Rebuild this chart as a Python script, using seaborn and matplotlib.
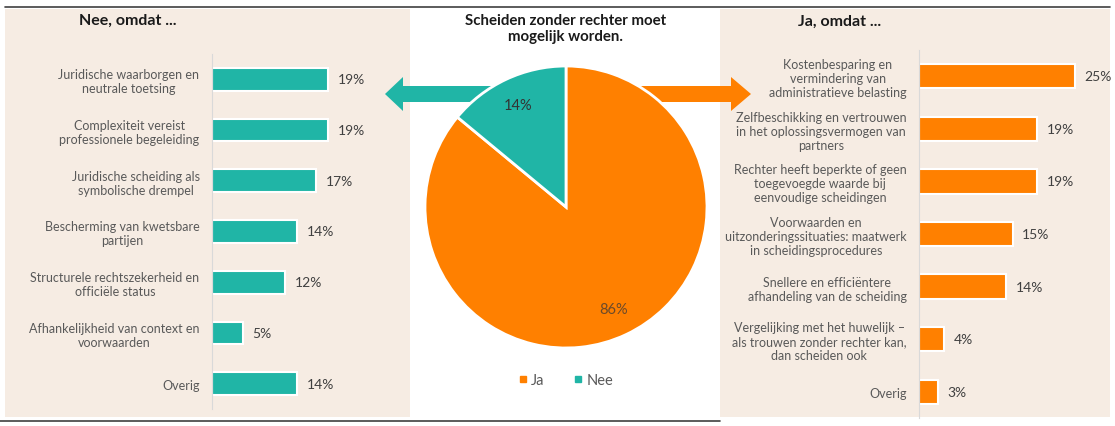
import matplotlib
matplotlib.use("Agg")
import matplotlib.pyplot as plt
import seaborn as sns
import pandas as pd
from matplotlib.patches import Rectangle, Polygon
from matplotlib.lines import Line2D

# Data
nee_labels = [
    "Juridische waarborgen en\nneutrale toetsing",
    "Complexiteit vereist\nprofessionele begeleiding",
    "Juridische scheiding als\nsymbolische drempel",
    "Bescherming van kwetsbare\npartijen",
    "Structurele rechtszekerheid en\nofficiële status",
    "Afhankelijkheid van context en\nvoorwaarden",
    "Overig",
]
nee_values = [19, 19, 17, 14, 12, 5, 14]

ja_labels = [
    "Kostenbesparing en\nvermindering van\nadministratieve belasting",
    "Zelfbeschikking en vertrouwen\nin het oplossingsvermogen van\npartners",
    "Rechter heeft beperkte of geen\ntoegevoegde waarde bij\neenvoudige scheidingen",
    "Voorwaarden en\nuitzonderingssituaties: maatwerk\nin scheidingsprocedures",
    "Snellere en efficiëntere\nafhandeling van de scheiding",
    "Vergelijking met het huwelijk –\nals trouwen zonder rechter kan,\ndan scheiden ook",
    "Overig",
]
ja_values = [25, 19, 19, 15, 14, 4, 3]

pie_labels = ["Ja", "Nee"]
pie_values = [86, 14]

TEAL = "#20b5a6"
ORANGE = "#ff8000"
BEIGE = "#f6ece3"
LABEL_GREY = "#595959"
VALUE_GREY = "#404040"

sns.set_style("white")
plt.rcParams["font.family"] = ["Lato", "DejaVu Sans"]

W, H = 1115, 427
fig = plt.figure(figsize=(W / 100, H / 100), dpi=100)
fig.patch.set_facecolor("white")


def box(x, y, w, h):
    # pixel box (top-left origin) -> figure fraction rect
    return [x / W, 1 - (y + h) / H, w / W, h / H]


def fpt(x, y):
    return (x / W, 1 - y / H)


# panel backgrounds
fig.add_artist(Rectangle(fpt(5, 418), 405 / W, 408 / H, transform=fig.transFigure,
                         facecolor=BEIGE, edgecolor="none", zorder=-3))
fig.add_artist(Rectangle(fpt(720, 418), 390 / W, 408 / H, transform=fig.transFigure,
                         facecolor=BEIGE, edgecolor="none", zorder=-3))

# top and bottom rules
fig.add_artist(Line2D([5 / W, 1110 / W], [1 - 8 / H] * 2, transform=fig.transFigure,
                      color="#404040", lw=1.2, zorder=5))
fig.add_artist(Line2D([0, 720 / W], [1 - 422 / H] * 2, transform=fig.transFigure,
                      color="#404040", lw=1.2, zorder=5))

# arrows
teal_arrow = [(385, 95), (403, 78), (403, 87), (530, 87), (530, 103), (403, 103), (403, 112)]
orange_arrow = [(751, 95), (731, 78), (731, 87), (600, 87), (600, 103), (731, 103), (731, 112)]
for pts, col in [(teal_arrow, TEAL), (orange_arrow, ORANGE)]:
    fig.add_artist(Polygon([fpt(x, y) for x, y in pts], closed=True, transform=fig.transFigure,
                           facecolor=col, edgecolor="none", zorder=-1))


def bar_panel(rect, labels, values, color, height):
    ax = fig.add_axes(rect)
    ax.set_facecolor("none")
    df = pd.DataFrame({"label": labels, "value": values})
    sns.barplot(data=df, x="value", y="label", order=labels, color=color, orient="h",
                width=height, edgecolor="white", linewidth=1.5, saturation=1, ax=ax)
    ax.set_xlim(0, 30)
    ax.set_xlabel("")
    ax.set_ylabel("")
    ax.set_xticks([])
    for s in ["top", "right", "bottom"]:
        ax.spines[s].set_visible(False)
    ax.spines["left"].set_color("#d9d9d9")
    ax.spines["left"].set_linewidth(0.8)
    ax.tick_params(axis="y", length=0, pad=9, labelsize=9, labelcolor=LABEL_GREY)
    for t in ax.get_yticklabels():
        t.set_multialignment("center")
    ax.set_yticks([i + 0.5 for i in range(len(labels) - 1)], minor=True)
    ax.tick_params(axis="y", which="minor", length=3, color="#d9d9d9", width=0.8)
    ax.bar_label(ax.containers[0], fmt="%d%%", padding=7, fontsize=10, color=VALUE_GREY)
    return ax


bar_panel(box(212, 55, 183, 355), nee_labels, nee_values, TEAL, 0.45)
bar_panel(box(919, 51, 187, 368), ja_labels, ja_values, ORANGE, 0.46)

fig.text(128 / W, 1 - 21 / H, "Nee, omdat ...", ha="center", va="center",
         fontsize=11.5, fontweight="bold", color="#1a1a1a")
fig.text(840 / W, 1 - 22 / H, "Ja, omdat ...", ha="center", va="center",
         fontsize=11.5, fontweight="bold", color="#1a1a1a")

# pie
pax = fig.add_axes(box(425, 67, 282, 282))
pax.set_facecolor("none")
wedges, _, autotexts = pax.pie(pie_values, colors=[ORANGE, TEAL], startangle=90,
                               counterclock=False, autopct="%d%%", pctdistance=0.8,
                               wedgeprops=dict(edgecolor="white", linewidth=2))
pax.set_xlim(-1, 1)
pax.set_ylim(-1, 1)
autotexts[0].set_color("#6b4a2a")
autotexts[0].set_fontsize(10.5)
autotexts[1].set_color("#333333")
autotexts[1].set_fontsize(10.5)

fig.text(566 / W, 1 - 29 / H, "Scheiden zonder rechter moet\nmogelijk worden.", ha="center",
         va="center", fontsize=10.8, fontweight="bold", color="#1a1a1a", linespacing=1.25)

handles = [Line2D([], [], marker="s", linestyle="", markersize=4, color=c) for c in [ORANGE, TEAL]]
leg = fig.legend(handles, pie_labels, loc="center", bbox_to_anchor=fpt(566, 381), ncol=2,
                 frameon=False, handlelength=0.6, handletextpad=0.3, columnspacing=2.0,
                 fontsize=10.5)
for t in leg.get_texts():
    t.set_color(LABEL_GREY)

fig.savefig("out.png", dpi=100, facecolor="white")
